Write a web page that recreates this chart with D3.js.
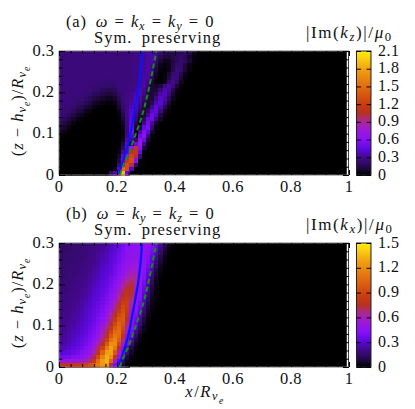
<!DOCTYPE html>
<html>
<head>
<meta charset="utf-8">
<script src="https://cdn.jsdelivr.net/npm/d3@7"></script>
<style>
body { margin: 0; background: #fff; }
svg { display: block; }
text { font-family: "Liberation Serif", serif; fill: #111; }
</style>
</head>
<body>
<div id="canvas"></div>
<script>
// x ticks, z ticks, colorbar ticks
var xTicks = [0, 0.2, 0.4, 0.6, 0.8, 1];
var xMinorTicks = [0.04, 0.08, 0.12, 0.16, 0.24, 0.28, 0.32, 0.36, 0.44, 0.48, 0.52, 0.56, 0.64, 0.68, 0.72, 0.76, 0.84, 0.88, 0.92, 0.96];
var zTicks = [0, 0.1, 0.2, 0.3];
var zMinorTicks = [0.02, 0.04, 0.06, 0.08, 0.12, 0.14, 0.16, 0.18, 0.22, 0.24, 0.26, 0.28];
var barTicksA = [0, 0.3, 0.6, 0.9, 1.2, 1.5, 1.8, 2.1];
var barTicksB = [0, 0.3, 0.6, 0.9, 1.2, 1.5];

var columnCount = 70;
var rowCount = 30;

// the two curves, same in both panels
var blueZ = [0, 0.02, 0.05, 0.08, 0.1, 0.13, 0.16, 0.2, 0.25, 0.3];
var blueX = [0.205, 0.215, 0.228, 0.24, 0.246, 0.254, 0.262, 0.272, 0.281, 0.286];
var greenZ = [0, 0.02, 0.05, 0.08, 0.1, 0.13, 0.16, 0.2, 0.25, 0.3];
var greenX = [0.21, 0.22, 0.24, 0.255, 0.265, 0.28, 0.293, 0.307, 0.322, 0.336];

// |Im(kz)|/mu0, first row is the top of the plot, columns past the row end are 0
var valuesA = [
[.25,.25,.25,.25,.25,.25,.25,.25,.25,.25,.25,.25,.25,.25,.25,.25,.25,.26,.27,.28,.3,.33,.35,.3,.22,.16,.14,.15,.16,.18,.2,.14,.06,.02],
[.25,.25,.25,.25,.25,.25,.25,.25,.25,.25,.25,.25,.25,.25,.25,.25,.25,.26,.27,.28,.3,.33,.35,.26,.16,.1,.1,.14,.18,.2,.16,.08,.02],
[.25,.25,.25,.25,.25,.25,.25,.25,.25,.25,.25,.25,.25,.25,.25,.25,.25,.26,.27,.28,.3,.33,.34,.22,.1,.05,.06,.12,.18,.21,.18,.1,.03],
[.25,.25,.25,.25,.25,.25,.25,.25,.25,.25,.25,.25,.25,.25,.25,.25,.25,.26,.27,.28,.31,.34,.3,.16,.05,.02,.05,.14,.21,.2,.12,.04],
[.25,.25,.25,.25,.25,.25,.25,.25,.25,.25,.25,.25,.25,.25,.25,.25,.25,.26,.27,.28,.31,.34,.26,.12,.03,.01,.05,.16,.23,.22,.1,.03],
[.25,.25,.25,.25,.25,.25,.25,.25,.25,.25,.25,.25,.25,.25,.25,.25,.25,.26,.26,.27,.32,.34,.22,.08,.01,.02,.1,.22,.25,.15,.05],
[.25,.25,.25,.25,.25,.25,.25,.25,.25,.25,.25,.24,.24,.25,.25,.25,.25,.26,.27,.28,.33,.32,.18,.05,0,.03,.14,.25,.24,.1,.02],
[.25,.25,.25,.25,.25,.25,.25,.25,.25,.24,.23,.22,.22,.24,.25,.25,.25,.26,.27,.29,.34,.28,.12,.03,0,.05,.2,.3,.2,.06],
[.25,.25,.25,.25,.25,.25,.25,.24,.23,.22,.21,.2,.2,.21,.25,.25,.26,.27,.29,.32,.34,.24,.12,.08,.12,.28,.34,.26,.1,.02],
[.25,.25,.25,.25,.25,.25,.24,.23,.21,.2,.18,.16,.16,.18,.22,.25,.26,.28,.31,.35,.3,.18,.1,.1,.24,.36,.32,.16,.04],
[.25,.25,.25,.25,.25,.24,.22,.21,.18,.16,.13,.11,.11,.13,.2,.24,.27,.3,.34,.36,.26,.14,.1,.16,.34,.38,.26,.1,.02],
[.25,.25,.25,.24,.23,.22,.2,.18,.13,.11,.08,.06,.06,.08,.17,.23,.27,.31,.37,.33,.2,.12,.1,.26,.4,.34,.18,.05],
[.25,.25,.24,.23,.21,.2,.16,.13,.08,.06,.04,.02,.02,.04,.13,.22,.27,.33,.38,.3,.16,.1,.16,.36,.42,.26,.1,.02],
[.25,.24,.23,.21,.18,.16,.11,.08,.04,.01,0,0,0,.01,.09,.2,.28,.36,.36,.24,.12,.1,.28,.44,.36,.16,.05],
[.24,.23,.21,.18,.13,.11,.06,.04,0,0,0,0,0,0,.05,.18,.29,.39,.32,.18,.1,.18,.4,.46,.26,.08,.02],
[.22,.21,.18,.13,.08,.06,.02,0,0,0,0,0,0,0,.03,.14,.29,.41,.28,.12,.1,.3,.5,.38,.14,.03],
[.2,.18,.13,.08,.04,.02,0,0,0,0,0,0,0,0,.02,.1,.27,.44,.22,.08,.18,.46,.5,.26,.08],
[.16,.13,.08,.04,0,0,0,0,0,0,0,0,0,0,.01,.07,.26,.46,.16,.03,.28,.52,.34,.08],
[.11,.08,.04,0,0,0,0,0,0,0,0,0,0,0,0,.05,.24,.48,.08,.14,.46,.54,.2,.03],
[.06,.04,0,0,0,0,0,0,0,0,0,0,0,0,0,.04,.24,.5,.03,.32,.58,.42,.08],
[.02,0,0,0,0,0,0,0,0,0,0,0,0,0,0,.04,.28,.4,.03,.5,.62,.26,.03],
[0,0,0,0,0,0,0,0,0,0,0,0,0,0,0,.05,.34,.3,.2,.66,.5,.1],
[0,0,0,0,0,0,0,0,0,0,0,0,0,0,0,.1,.42,.14,.5,.74,.3,.03],
[0,0,0,0,0,0,0,0,0,0,0,0,0,0,.02,.18,.46,.7,1.1,.6,.1],
[0,0,0,0,0,0,0,0,0,0,0,0,0,0,.04,.3,.4,1.1,1.15,.5,.02],
[0,0,0,0,0,0,0,0,0,0,0,0,0,0,.08,.44,.7,1.25,1,.25],
[0,0,0,0,0,0,0,0,0,0,0,0,0,0,.12,.5,1.15,1.3,.6],
[0,0,0,0,0,0,0,0,0,0,0,0,0,0,.24,.7,1.3,1,.2],
[0,0,0,0,0,0,0,0,0,0,0,0,0,.06,.4,1.5,1.3,.4],
[0,0,0,0,0,0,0,0,0,0,0,0,.2,.35,.9,1.9,.5]
];

// |Im(kx)|/mu0
var valuesB = [
[.14,.14,.15,.15,.16,.16,.17,.18,.19,.2,.22,.24,.27,.3,.34,.38,.42,.45,.46,.47,.47,.46,.42,.34,.22,.12,.04,.01],
[.14,.14,.15,.15,.16,.17,.17,.18,.2,.21,.23,.25,.28,.31,.35,.39,.43,.45,.47,.47,.47,.45,.4,.3,.18,.08,.02],
[.14,.15,.15,.16,.16,.17,.18,.19,.2,.22,.24,.26,.29,.32,.36,.4,.44,.46,.47,.48,.47,.44,.37,.26,.14,.05,.01],
[.14,.15,.15,.16,.17,.17,.18,.19,.21,.23,.25,.27,.3,.33,.37,.41,.45,.47,.48,.48,.46,.42,.33,.22,.1,.03],
[.15,.15,.16,.16,.17,.18,.19,.2,.21,.23,.26,.28,.31,.34,.38,.42,.46,.49,.5,.48,.46,.4,.3,.18,.07,.02],
[.15,.15,.16,.17,.17,.18,.19,.21,.22,.24,.27,.29,.32,.36,.4,.44,.48,.52,.52,.49,.45,.38,.27,.14,.05,.01],
[.15,.16,.16,.17,.18,.19,.2,.21,.23,.25,.28,.3,.33,.37,.41,.46,.52,.56,.55,.5,.44,.35,.23,.1,.03],
[.15,.16,.17,.17,.18,.19,.2,.22,.24,.26,.29,.31,.34,.38,.43,.48,.55,.6,.58,.5,.42,.32,.19,.08,.02],
[.16,.16,.17,.18,.19,.2,.21,.23,.25,.27,.3,.32,.36,.4,.45,.52,.6,.65,.62,.5,.41,.29,.16,.05,.01],
[.16,.17,.17,.18,.19,.2,.22,.24,.26,.28,.31,.34,.37,.42,.48,.57,.66,.7,.63,.49,.38,.26,.13,.04],
[.16,.17,.18,.19,.2,.21,.22,.25,.27,.29,.32,.35,.39,.44,.52,.62,.71,.73,.6,.47,.36,.23,.1,.03],
[.17,.17,.18,.19,.2,.22,.23,.25,.28,.3,.33,.36,.41,.47,.56,.68,.76,.74,.56,.45,.33,.2,.08,.02],
[.17,.18,.19,.2,.21,.22,.24,.26,.29,.31,.34,.38,.43,.5,.61,.74,.8,.72,.52,.43,.3,.17,.06,.01],
[.17,.18,.19,.2,.21,.23,.25,.27,.3,.32,.36,.39,.45,.54,.66,.8,.84,.68,.49,.41,.27,.14,.04],
[.18,.19,.2,.21,.22,.24,.26,.28,.31,.34,.37,.41,.48,.58,.72,.86,.86,.64,.47,.38,.24,.11,.03],
[.18,.19,.2,.21,.23,.24,.27,.29,.32,.35,.39,.43,.52,.63,.78,.9,.86,.6,.45,.35,.2,.08,.02],
[.19,.2,.21,.22,.24,.25,.28,.3,.33,.36,.4,.47,.56,.69,.84,.94,.84,.56,.43,.31,.17,.06,.01],
[.19,.2,.21,.23,.24,.26,.28,.31,.34,.38,.42,.5,.61,.76,.9,.98,.8,.52,.4,.27,.13,.04],
[.2,.21,.22,.23,.25,.27,.29,.32,.35,.39,.44,.54,.67,.84,.96,.98,.74,.48,.36,.22,.09,.02],
[.2,.21,.22,.24,.26,.28,.3,.33,.37,.41,.5,.6,.74,.9,1.02,.96,.68,.45,.32,.17,.06,.01],
[.21,.22,.23,.25,.27,.29,.31,.35,.38,.43,.54,.66,.82,.98,1.06,.92,.62,.42,.27,.12,.03],
[.21,.22,.24,.26,.28,.3,.33,.36,.4,.47,.58,.72,.9,1.06,1.08,.86,.55,.38,.2,.08,.02],
[.22,.23,.25,.27,.29,.31,.34,.38,.42,.5,.62,.78,.98,1.12,1.06,.78,.48,.32,.14,.04],
[.23,.24,.26,.28,.3,.33,.36,.4,.44,.54,.68,.86,1.08,1.18,1,.68,.44,.24,.09,.02],
[.24,.25,.27,.29,.32,.34,.38,.42,.5,.6,.76,.98,1.2,1.2,.9,.56,.38,.17,.05],
[.26,.27,.29,.31,.34,.37,.41,.45,.55,.68,.88,1.12,1.28,1.12,.76,.46,.26,.1,.02],
[.3,.31,.32,.35,.37,.41,.45,.5,.62,.78,1.02,1.25,1.28,.98,.6,.4,.17,.05],
[.36,.37,.38,.4,.42,.46,.5,.58,.72,.92,1.16,1.32,1.2,.8,.48,.24,.09,.02],
[.5,.5,.51,.52,.54,.56,.6,.68,.84,1.06,1.26,1.32,1.02,.6,.34,.14,.04],
[.78,.78,.79,.8,.82,.84,.88,.94,1.02,1.12,1.25,1.25,.7,.38,.24,.08,.01]
];

var paletteStops = [0, .05, .1, .143, .2, .286, .36, .43, .5, .57, .7, .85, 1];
var paletteColors = ["#000000", "#1c0838", "#340a6c", "#44088c", "#5808d8", "#8a10f8", "#9c18d8", "#a8289a", "#b83020", "#c83c10", "#e06810", "#f0a010", "#ffee10"];

var width = 415;
var height = 409;
var plotLeft = 59;
var plotRight = 349;
var plotHeight = 124;
var barLeft = 356.5;
var barRight = 371;

var svg = d3.select("#canvas").append("svg")
	.attr("width", width)
	.attr("height", height);

var palette = d3.scaleLinear().domain(paletteStops).range(paletteColors).clamp(true);

// parts: [text, style], style is "" / "i" / "sub" / "subi" / "subsubi"
function richText(parent, x, y, parts, size, spacing, anchor, rotate) {
	var t = parent.append("text")
		.attr("text-anchor", anchor || "start")
		.attr("font-size", size)
		.attr("letter-spacing", spacing + "px");
	if (rotate) t.attr("transform", "translate(" + x + "," + y + ") rotate(-90)");
	else t.attr("x", x).attr("y", y);
	var offset = 0;
	parts.forEach(function (p) {
		var style = p[1] || "";
		var target = style.indexOf("subsub") == 0 ? 0.42 : style.indexOf("sub") == 0 ? 0.2 : 0;
		var scale = style.indexOf("subsub") == 0 ? 0.58 : style.indexOf("sub") == 0 ? 0.75 : 1;
		t.append("tspan")
			.attr("dy", (target - offset) * size)
			.attr("font-size", size * scale)
			.attr("font-style", style.slice(-1) == "i" ? "italic" : "normal")
			.text(p[0]);
		offset = target;
	});
}

function drawPanel(top, values, barMax, barTicks, title, barTitle) {
	var xScale = d3.scaleLinear().domain([0, 1]).range([plotLeft, plotRight]);
	var zScale = d3.scaleLinear().domain([0, 0.3]).range([top + plotHeight, top]);
	var colBand = d3.scaleBand().domain(d3.range(columnCount)).range([plotLeft, plotRight]);
	var rowBand = d3.scaleBand().domain(d3.range(rowCount)).range([top, top + plotHeight]);
	var color = function (v) { return palette(v / barMax); };

	var panel = svg.append("g");
	panel.append("rect")
		.attr("x", plotLeft).attr("y", top)
		.attr("width", plotRight - plotLeft).attr("height", plotHeight)
		.attr("fill", "#000");

	values.forEach(function (row, r) {
		panel.append("g").selectAll("rect")
			.data(row)
			.enter()
			.append("rect")
			.attr("shape-rendering", "crispEdges")
			.attr("x", function (d, c) { return colBand(c); })
			.attr("y", rowBand(r))
			.attr("width", colBand.bandwidth() + 0.5)
			.attr("height", rowBand.bandwidth() + 0.5)
			.attr("fill", color);
	});

	var curve = d3.line()
		.x(function (d) { return xScale(d[0]); })
		.y(function (d) { return zScale(d[1]); })
		.curve(d3.curveMonotoneY);
	panel.append("path")
		.datum(d3.zip(blueX, blueZ))
		.attr("d", curve)
		.attr("fill", "none")
		.attr("stroke", "#0a14ff")
		.attr("stroke-width", 2.2);
	panel.append("path")
		.datum(d3.zip(greenX, greenZ))
		.attr("d", curve)
		.attr("fill", "none")
		.attr("stroke", "#188a18")
		.attr("stroke-width", 2)
		.attr("stroke-dasharray", "5,3");

	// white line at the right side, frame on the others
	panel.append("line")
		.attr("x1", plotRight - 1.5).attr("x2", plotRight - 1.5)
		.attr("y1", top).attr("y2", top + plotHeight)
		.attr("stroke", "#fff").attr("stroke-width", 1.5);
	panel.append("path")
		.attr("d", "M" + plotRight + "," + top + "H" + plotLeft + "V" + (top + plotHeight) + "H" + plotRight)
		.attr("fill", "none").attr("stroke", "#777").attr("stroke-width", 1);

	function ticks(axis, values, size) {
		return axis.tickValues(values).tickSizeInner(-size).tickSizeOuter(0).tickFormat("");
	}
	function addAxis(axis, tx, ty) {
		var g = panel.append("g").attr("transform", "translate(" + tx + "," + ty + ")").call(axis);
		g.select(".domain").remove();
		g.selectAll("line").attr("stroke", "#000").attr("stroke-width", 1);
		return g;
	}
	var bottom = top + plotHeight;
	addAxis(ticks(d3.axisBottom(xScale), xTicks, 5), 0, bottom);
	addAxis(ticks(d3.axisBottom(xScale), xMinorTicks, 3), 0, bottom);
	addAxis(ticks(d3.axisTop(xScale), xTicks, 5), 0, top);
	addAxis(ticks(d3.axisTop(xScale), xMinorTicks, 3), 0, top);
	addAxis(ticks(d3.axisLeft(zScale), zTicks, 6), plotLeft, 0);
	addAxis(ticks(d3.axisLeft(zScale), zMinorTicks, 3.5), plotLeft, 0);
	addAxis(ticks(d3.axisRight(zScale), zTicks, 6), plotRight, 0);
	addAxis(ticks(d3.axisRight(zScale), zMinorTicks, 3.5), plotRight, 0);

	panel.append("g").selectAll("text")
		.data(xTicks)
		.enter().append("text")
		.attr("x", function (d) { return xScale(d); })
		.attr("y", bottom + 17)
		.attr("text-anchor", "middle")
		.attr("font-size", 16.5)
		.attr("letter-spacing", "0.5px")
		.text(function (d) { return d; });
	panel.append("g").selectAll("text")
		.data(zTicks)
		.enter().append("text")
		.attr("x", 54.5)
		.attr("y", function (d) { return zScale(d) + 4.5; })
		.attr("text-anchor", "end")
		.attr("font-size", 16.5)
		.attr("letter-spacing", "0.5px")
		.text(function (d) { return d; });

	// colorbar
	var barScale = d3.scaleLinear().domain([0, barMax]).range([top + plotHeight, top]);
	var barSteps = d3.range(0, plotHeight);
	panel.append("g").selectAll("rect")
		.data(barSteps)
		.enter().append("rect")
		.attr("shape-rendering", "crispEdges")
		.attr("x", barLeft)
		.attr("y", function (d) { return top + d; })
		.attr("width", barRight - barLeft)
		.attr("height", 1.5)
		.attr("fill", function (d) { return color(barScale.invert(top + d + 0.5)); });
	panel.append("rect")
		.attr("x", barLeft).attr("y", top)
		.attr("width", barRight - barLeft).attr("height", plotHeight)
		.attr("fill", "none").attr("stroke", "#222").attr("stroke-width", 1);
	addAxis(ticks(d3.axisLeft(barScale), barTicks, 4.5), barLeft, 0);
	addAxis(ticks(d3.axisRight(barScale), barTicks, 4.5), barRight, 0);
	panel.append("g").selectAll("text")
		.data(barTicks)
		.enter().append("text")
		.attr("x", 378)
		.attr("y", function (d) { return barScale(d) + 4.5; })
		.attr("font-size", 16)
		.attr("letter-spacing", "0.5px")
		.text(function (d) { return d == 0 ? "0" : d.toFixed(1); });

	richText(panel, 66, top - 24, title, 16.5, 0.8);
	richText(panel, 94, top - 8, [["Sym.\u2002preserving"]], 16.5, 1);
	richText(panel, 306, top - 13, barTitle, 17, 1.6);

	richText(panel, 23, top + plotHeight / 2 - 2, [
		["(", ""], ["z", "i"], ["\u2005−\u2005", ""], ["h", "i"], ["ν", "subi"], ["e", "subsubi"],
		[")/", ""], ["R", "i"], ["ν", "subi"], ["e", "subsubi"]
	], 16.5, 1, "middle", true);
}

drawPanel(51, valuesA, 2.1, barTicksA,
	[["(a)\u2002"], ["ω", "i"], ["\u2004=\u2004"], ["k", "i"], ["x", "subi"], ["\u2004=\u2004"], ["k", "i"], ["y", "subi"], ["\u2004=\u20040"]],
	[["|Im("], ["k", "i"], ["z", "subi"], [")|/"], ["μ", "i"], ["0", "sub"]]);
drawPanel(243, valuesB, 1.5, barTicksB,
	[["(b)\u2002"], ["ω", "i"], ["\u2004=\u2004"], ["k", "i"], ["y", "subi"], ["\u2004=\u2004"], ["k", "i"], ["z", "subi"], ["\u2004=\u20040"]],
	[["|Im("], ["k", "i"], ["x", "subi"], [")|/"], ["μ", "i"], ["0", "sub"]]);

richText(svg, 205, 397, [["x", "i"], ["/"], ["R", "i"], ["ν", "subi"], ["e", "subsubi"]], 16.5, 1.5, "middle");
</script>
</body>
</html>
